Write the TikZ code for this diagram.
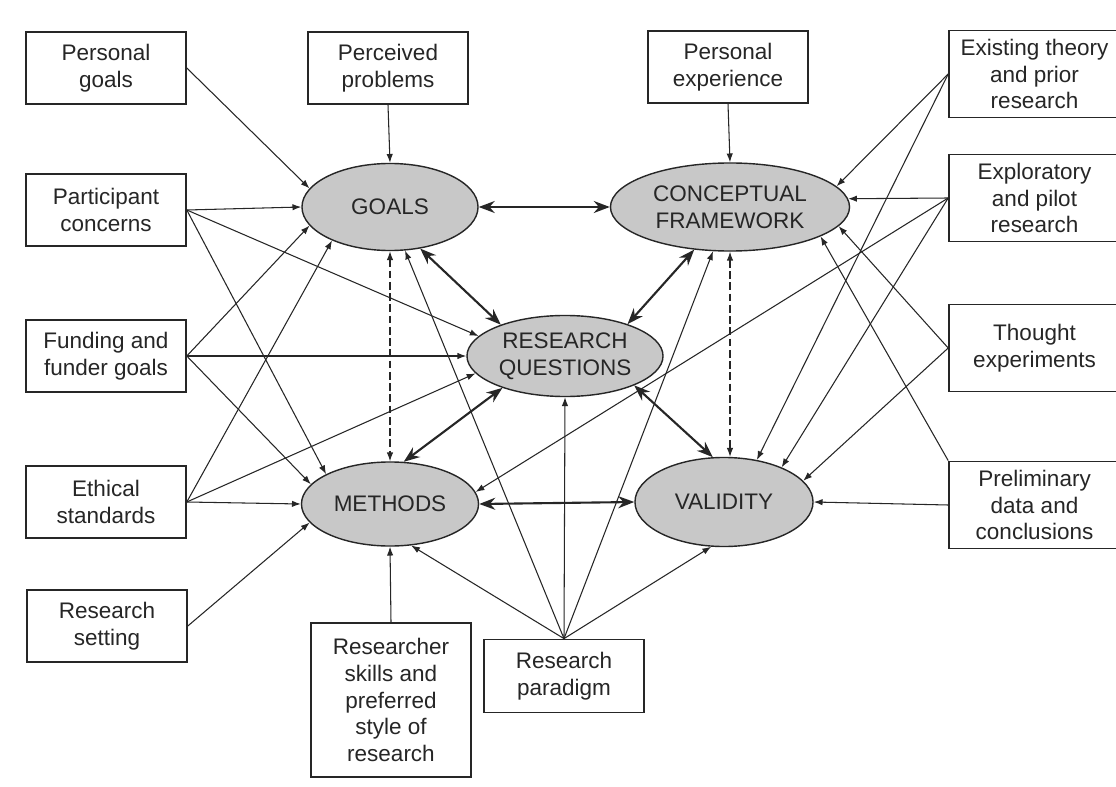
\documentclass[tikz,border=0pt]{standalone}
\usepackage{fontspec}
\setmainfont{Liberation Sans}
\usetikzlibrary{arrows.meta,shapes.geometric}
\definecolor{ink}{HTML}{262626}
\definecolor{elfill}{HTML}{C8C8C8}
\tikzset{
  box/.style={rectangle, draw=ink, line width=1.1pt, align=center, text=ink,
    font=\fontsize{16}{19}\selectfont, inner sep=2pt, minimum width=4cm, minimum height=1.8cm},
  rbox/.style={box, minimum width=4.275cm, minimum height=2.18cm},
  el/.style={ellipse, draw=ink, line width=1pt, fill=elfill, align=center, text=ink,
    font=\fontsize{16}{19}\selectfont, inner sep=0pt},
  flow/.style={-{Latex[length=2.2mm,width=1.6mm]}, draw=ink, line width=0.75pt},
  flowb/.style={{Stealth[length=4mm,width=3mm]}-{Stealth[length=4mm,width=3mm]},
    draw=ink, line width=1.5pt},
  flowd/.style={{Latex[length=2.2mm,width=1.6mm]}-{Latex[length=2.2mm,width=1.6mm]},
    draw=ink, line width=0.75pt, dash pattern=on 5.5pt off 2.5pt},
}
\begin{document}
\begin{tikzpicture}[x=0.025cm, y=-0.025cm]
\useasboundingbox[fill=white] (0,0) rectangle (1116,787);
% Left column
\node[box] (pg) at (106,68)  {Personal \\ goals};
\node[box] (pc) at (106,210) {Participant \\ concerns};
\node[box] (fu) at (106,356) {Funding and \\ funder goals};
\node[box] (et) at (106,502) {Ethical \\ standards};
\node[box] (rs) at (107,626) {Research \\ setting};
% Top row
\node[box] (pp) at (388,68) {Perceived \\ problems};
\node[box] (pe) at (728,67) {Personal \\ experience};
% Right column (cut by the page edge)
\node[rbox] (ex) at (1034.5,74)  {Existing theory \\ and prior \\ research};
\node[rbox] (ep) at (1034.5,198) {Exploratory \\ and pilot \\ research};
\node[rbox] (te) at (1034.5,348) {Thought \\ experiments};
\node[rbox] (pr) at (1034.5,505) {Preliminary \\ data and \\ conclusions};
% Bottom row
\node[box, minimum height=3.85cm] (sk) at (391,700) {Researcher \\ skills and \\ preferred \\ style of \\ research};
\node[box, minimum height=1.83cm] (rp) at (564,676) {Research \\ paradigm};
% Design components
\node[el, minimum width=4.4cm,   minimum height=2.175cm] (goals) at (390,207) {GOALS};
\node[el, minimum width=5.975cm, minimum height=2.2cm]   (cf)    at (730,207) {CONCEPTUAL \\ FRAMEWORK};
\node[el, minimum width=4.9cm,   minimum height=2.025cm] (rq)    at (565,356) {RESEARCH \\ QUESTIONS};
\node[el, minimum width=4.425cm, minimum height=2.1cm]   (meth)  at (390,504) {METHODS};
\node[el, minimum width=4.45cm,  minimum height=2.225cm] (val)   at (724,502) {VALIDITY};
% Influences from the left
\draw[flow] (pg.east) -- (goals.167);
\draw[flow] (pp.south) -- (goals.north);
\draw[flow] (pc.east) -- (goals.west);
\draw[flow] (pc.east) -- (rq.167);
\draw[flow] (pc.east) -- (meth.155);
\draw[flow] (fu.east) -- (goals.193);
\draw[flow] (fu.east) -- (rq.west);
\draw[flow] (fu.east) -- (meth.166);
\draw[flow] (et.east) -- (goals.210);
\draw[flow] (et.east) -- (rq.191);
\draw[flow] (et.east) -- (meth.west);
\draw[flow] (rs.east) -- (meth.193);
% Influences from below
\draw[flow] (sk.north) -- (meth.south);
\draw[flow] (rp.north) -- (meth.297);
\draw[flow] (rp.north) -- (goals.289);
\draw[flow] (rp.north) -- (rq.south);
\draw[flow] (rp.north) -- (cf.249);
\draw[flow] (rp.north) -- (val.254);
% Influences from the right
\draw[flow] (pe.south) -- (cf.north);
\draw[flow] (ex.west) -- (cf.11);
\draw[flow] (ex.west) -- (val.52);
\draw[flow] (ep.west) -- (cf.4);
\draw[flow] (ep.west) -- (meth.8);
\draw[flow] (ep.west) -- (val.31);
\draw[flow] (te.west) -- (cf.350);
\draw[flow] (te.west) -- (val.15);
\draw[flow] (pr.west) -- (val.east);
\draw[flow] (pr.north west) -- (cf.342);
% Links between the components
\draw[flowb] (goals.east) -- (cf.west);
\draw[flowb] (goals.306) -- (rq.154);
\draw[flowb] (cf.230) -- (rq.27);
\draw[flowb] (rq.207) -- (meth.72);
\draw[flowb] (rq.337) -- (val.104);
\draw[flowb] (meth.east) -- (val.west);
\draw[flowd] (goals.south) -- (meth.north);
\draw[flowd] (cf.south) -- (cf.south |- val.north);
\end{tikzpicture}
\end{document}
